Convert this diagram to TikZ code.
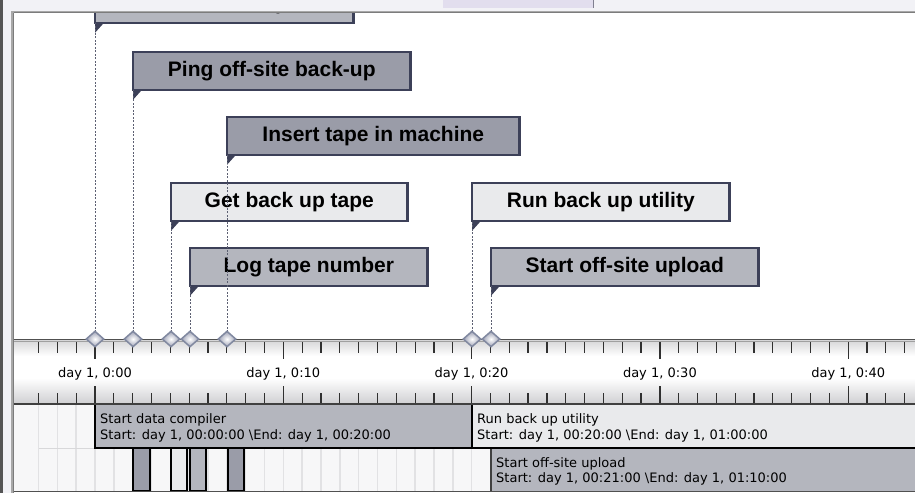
\documentclass[tikz,border=0pt]{standalone}
\usepackage{fontspec}
\setmainfont{Liberation Sans}
\newfontfamily\dvs{DejaVu Sans}
\usetikzlibrary{shapes.geometric}
\definecolor{cborder}{HTML}{3C4058}
\definecolor{cdark}{HTML}{9A9CA8}
\definecolor{cmed}{HTML}{B4B6BE}
\definecolor{clight}{HTML}{E9EAEC}
\definecolor{cdash}{HTML}{5C6072}
\definecolor{cdia}{HTML}{8088A0}
\definecolor{cdiaf}{HTML}{9CA0B4}
\definecolor{ctick}{HTML}{303030}
\definecolor{cgrid}{HTML}{E2E2E4}
\definecolor{cpane}{HTML}{F2F2F6}
\definecolor{clav}{HTML}{E2DEEE}
\definecolor{cmark}{HTML}{808090}
\definecolor{cdarkframe}{HTML}{555555}
\definecolor{cframe}{HTML}{A8A8A8}
\definecolor{cframeline}{HTML}{7C7C7C}
\definecolor{crulertop}{HTML}{D6D6D8}
\definecolor{crulerbot}{HTML}{CFCFD2}
\definecolor{cruleline}{HTML}{A0A0A0}
\definecolor{caxis}{HTML}{505050}
\definecolor{cganttbg}{HTML}{F7F7F8}
\definecolor{chgrid}{HTML}{D8D8DA}
\definecolor{cbarleft}{HTML}{404040}
\begin{document}
\begin{tikzpicture}[x=1pt,y=-1pt,
  callout/.style={draw=cborder, line width=2.4pt, inner sep=0pt, outer sep=0pt, anchor=south west, minimum height=37.6pt, font=\fontsize{21}{21}\selectfont\bfseries, text=black},
  dashline/.style={draw=cdash, dash pattern=on 2pt off 1.5pt, line width=1pt},
  milestone/.style={diamond, aspect=1, draw=cdia, line width=1.5pt, shade, inner color=white, outer color=cdiaf, minimum width=18pt, minimum height=16pt, inner sep=0pt},
  flagfill/.style={fill=cborder},
  axislabel/.style={font=\dvs\fontsize{13}{13}\selectfont, anchor=base, inner sep=0pt},
  bartext/.style={font=\dvs\fontsize{13}{13}\selectfont, anchor=base west, inner sep=0pt},
  tickline/.style={draw=ctick, line width=1.2pt},
  barline/.style={draw=black, line width=1.2pt},
]
\useasboundingbox (0,0) rectangle (915,493);
\fill[white] (0,0) rectangle (915,493);
% window frame
\fill[cpane] (0,0) rectangle (915,11);
\fill[cpane] (0,0) rectangle (11,493);
\fill[clav] (443,0) rectangle (593,8);
\fill[cmark] (592.5,0) rectangle (594,8);
\fill[cdarkframe] (0,0) rectangle (2.5,493);
\fill[cframe] (11,11) rectangle (915,13);
\fill[cframe] (11,11) rectangle (14,493);
\draw[cframeline, line width=0.8pt] (13.6,12.6) -- (915,12.6);
\draw[cframeline, line width=0.8pt] (13.6,12.6) -- (13.6,493);

\begin{scope}
\clip (14,13) rectangle (915,493);
% milestone positions
\coordinate (m1) at (95,339);
\coordinate (m2) at (133,339);
\coordinate (m3) at (171,339);
\coordinate (m4) at (190,339);
\coordinate (m5) at (227,339);
\coordinate (m6) at (472,339);
\coordinate (m7) at (491,339);
% callouts
\node[callout, fill=cmed, minimum width=258.6pt] (c1) at (95,22.8) {Start data compiler};
\node[callout, fill=cdark, minimum width=277.6pt] (c2) at (133,89.8) {Ping off-site back-up};
\node[callout, fill=cdark, minimum width=292.6pt] (c5) at (227,154.8) {Insert tape in machine};
\node[callout, fill=clight, minimum width=236.6pt] (c3) at (171,220.8) {Get back up tape};
\node[callout, fill=cmed, minimum width=237.6pt] (c4) at (190,285.8) {Log tape number};
\node[callout, fill=clight, minimum width=257.6pt] (c6) at (472,220.8) {Run back up utility};
\node[callout, fill=cmed, minimum width=267.6pt] (c7) at (491,285.8) {Start off-site upload};
\foreach \c in {c1,c2,c3,c4,c5,c6,c7}{
  \fill[flagfill] (\c.south west) -- ++(9,0) -- ++(-9,10) -- cycle;
}
% dashed connectors
\draw[dashline] (m1) -- (c1.south west);
\draw[dashline] (m2) -- (c2.south west);
\draw[dashline] (m3) -- (c3.south west);
\draw[dashline] (m4) -- (c4.south west);
\draw[dashline] (m5) -- (c5.south west);
\draw[dashline] (m6) -- (c6.south west);
\draw[dashline] (m7) -- (c7.south west);

% ruler
\shade[top color=crulertop, bottom color=white] (14,340) rectangle (915,356);
\fill[white] (14,356) rectangle (915,378);
\shade[top color=white, bottom color=crulerbot] (14,378) rectangle (915,404);
\draw[cruleline, line width=1pt] (14,341.8) -- (915,341.8);
\draw[caxis, line width=1.4pt] (14,339.3) -- (915,339.3);
\foreach \k in {-3,...,43}{
  \pgfmathsetmacro{\tx}{95+\k*18.83}
  \pgfmathtruncatemacro{\mj}{mod(\k+30,10)==0 ? 1 : 0}
  \ifnum\mj=1
    \draw[tickline] (\tx,342) -- (\tx,359);
    \draw[tickline] (\tx,386) -- (\tx,404);
  \else
    \draw[tickline] (\tx,342) -- (\tx,353);
    \draw[tickline] (\tx,393) -- (\tx,404);
  \fi
}
\node[axislabel] (l0) at (95,377) {day 1, 0:00};
\node[axislabel] (l1) at (283.3,377) {day 1, 0:10};
\node[axislabel] (l2) at (471.6,377) {day 1, 0:20};
\node[axislabel] (l3) at (659.9,377) {day 1, 0:30};
\node[axislabel] (l4) at (848.2,377) {day 1, 0:40};

% gantt area
\fill[cganttbg] (14,404) rectangle (915,491);
\foreach \k in {-3,...,43}{
  \pgfmathsetmacro{\tx}{95+\k*18.83}
  \draw[cgrid, line width=1.5pt] (\tx,404) -- (\tx,491);
}
\draw[chgrid, line width=1pt] (39,448) -- (915,448);
% bars row 1
\fill[cmed] (95,404) rectangle (472,448);
\fill[clight] (472,404) rectangle (915,448);
\draw[barline] (95,404) -- (95,448) -- (915,448);
\draw[draw=black, line width=2pt] (472,404) -- (472,448);
% row 2
\fill[cmed] (491,448.6) rectangle (915,491);
\draw[cbarleft, line width=1.2pt] (491,448.6) -- (491,491);
\filldraw[barline, fill=cdark] (133,448.6) rectangle (150,491);
\filldraw[barline, fill=clight] (171,448.6) rectangle (187,491);
\filldraw[barline, fill=cmed] (190,448.6) rectangle (206,491);
\filldraw[barline, fill=cdark] (228,448.6) rectangle (244,491);
\node[bartext] (t1a) at (100,423) {Start data compiler};
\node[bartext] (t1b) at (100,439) {Start: day 1, 00:00:00 \textbackslash End: day 1, 00:20:00};
\node[bartext] (t2a) at (477,423) {Run back up utility};
\node[bartext] (t2b) at (477,439) {Start: day 1, 00:20:00 \textbackslash End: day 1, 01:00:00};
\node[bartext] (t3a) at (496,467) {Start off-site upload};
\node[bartext] (t3b) at (496,482) {Start: day 1, 00:21:00 \textbackslash End: day 1, 01:10:00};
\draw[cbarleft, line width=1.2pt] (14,404) -- (915,404);
\draw[caxis, line width=1.4pt] (14,491.6) -- (915,491.6);
% milestones
\foreach \m in {m1,m2,m3,m4,m5,m6,m7}{
  \node[milestone] (d\m) at (\m) {};
}
\end{scope}
\end{tikzpicture}
\end{document}
